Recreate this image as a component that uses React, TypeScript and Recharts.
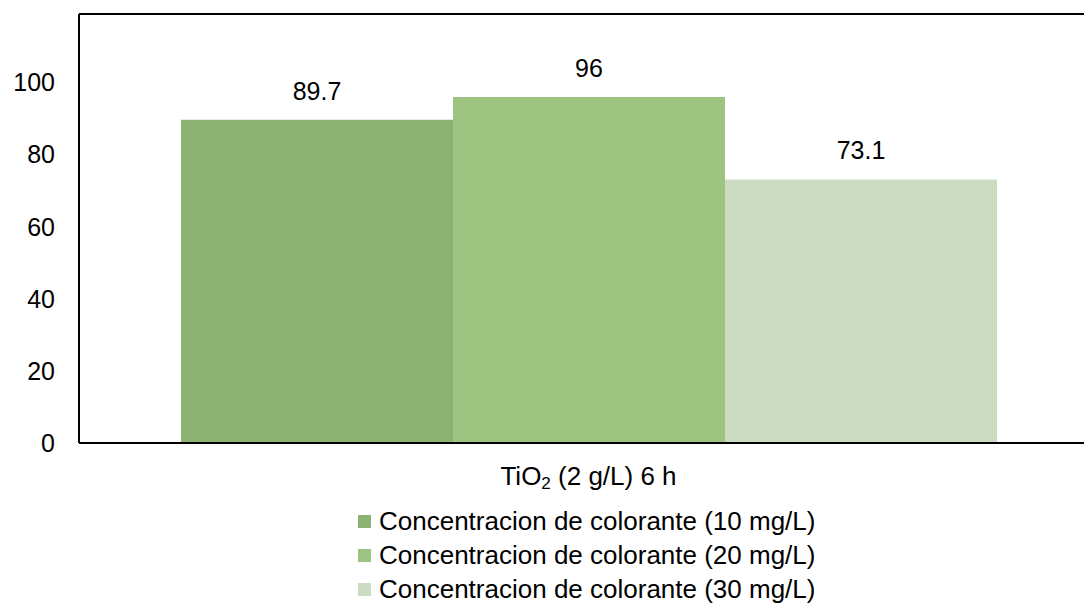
import { Bar, BarChart, LabelList, ReferenceLine, XAxis, YAxis } from "recharts";

const categories = ["TiO2 (2 g/L) 6 h"];
const seriesNames = [
  "Concentracion de colorante (10 mg/L)",
  "Concentracion de colorante (20 mg/L)",
  "Concentracion de colorante (30 mg/L)",
];
const values10 = [89.7];
const values20 = [96];
const values30 = [73.1];
const yTicks = [0, 20, 40, 60, 80, 100];
const yMax = 119;

const seriesKeys = ["c10", "c20", "c30"];
const colors = ["#8DB073", "#9DC480", "#CBDCC2"];
const font = "'Liberation Sans', Arial, sans-serif";

const data = categories.map((name, i) => ({
  name,
  c10: values10[i],
  c20: values20[i],
  c30: values30[i],
}));

function CategoryTick({ x, y, payload }: any) {
  const label: string = payload.value;
  const m = label.match(/^(.*?O)(2)(.*)$/);
  return (
    <text x={x} y={y + 42} textAnchor="middle" fill="#000" fontSize={26} fontFamily={font}>
      {m ? (
        <>
          {m[1]}
          <tspan fontSize={17} dy={4}>
            {m[2]}
          </tspan>
          <tspan dy={-4}>{m[3]}</tspan>
        </>
      ) : (
        label
      )}
    </text>
  );
}

function ChartLegend() {
  return (
    <div
      style={{
        position: "absolute",
        left: 358,
        top: 504,
        fontFamily: font,
        fontSize: 26,
        color: "#000",
      }}
    >
      {seriesNames.map((name, i) => (
        <div key={name} style={{ display: "flex", alignItems: "center", height: 34, whiteSpace: "nowrap" }}>
          <span style={{ width: 13, height: 13, background: colors[i], marginRight: 8, display: "inline-block" }} />
          <span>{name}</span>
        </div>
      ))}
    </div>
  );
}

export default function App() {
  return (
    <div
      style={{
        position: "absolute",
        left: 0,
        top: 0,
        width: 1084,
        height: 605,
        overflow: "hidden",
        background: "#fff",
      }}
    >
      <BarChart
        width={1110}
        height={605}
        data={data}
        margin={{ top: 14, right: 12, left: 0, bottom: 102 }}
        barCategoryGap={102}
        barGap={0}
      >
        <XAxis
          dataKey="name"
          height={60}
          tickSize={0}
          tickMargin={0}
          tickLine={false}
          axisLine={{ stroke: "#000", strokeWidth: 2 }}
          tick={<CategoryTick />}
        />
        <YAxis
          width={79}
          domain={[0, yMax]}
          ticks={yTicks}
          tickLine={false}
          tickSize={0}
          tickMargin={24}
          axisLine={{ stroke: "#000", strokeWidth: 2 }}
          tick={{ fill: "#000", fontSize: 25, fontFamily: font }}
        />
        <ReferenceLine y={yMax} stroke="#000" strokeWidth={2} />
        {seriesKeys.map((key, i) => (
          <Bar key={key} dataKey={key} name={seriesNames[i]} fill={colors[i]} isAnimationActive={false}>
            <LabelList
              dataKey={key}
              position="top"
              offset={20}
              fill="#000"
              fontSize={25}
              fontFamily={font}
            />
          </Bar>
        ))}
      </BarChart>
      <ChartLegend />
    </div>
  );
}
